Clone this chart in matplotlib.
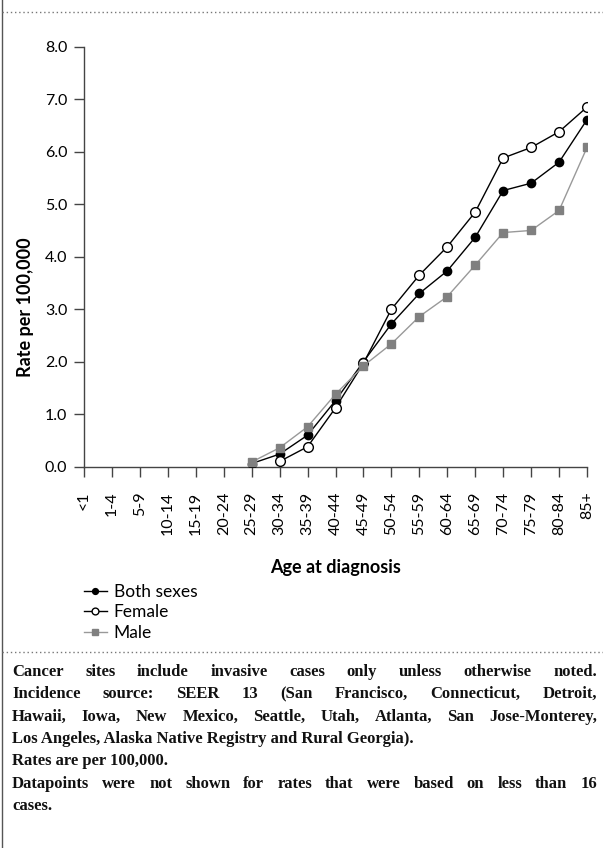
import matplotlib
matplotlib.use("Agg")
import matplotlib.pyplot as plt
from matplotlib.lines import Line2D
import numpy as np

# Data
age_groups = ['<1', '1-4', '5-9', '10-14', '15-19', '20-24', '25-29', '30-34', '35-39',
              '40-44', '45-49', '50-54', '55-59', '60-64', '65-69', '70-74', '75-79',
              '80-84', '85+']
both_sexes = [None] * 6 + [0.06, 0.24, 0.60, 1.26, 2.00, 2.72, 3.30, 3.73, 4.37, 5.26, 5.40, 5.80, 6.61]
female = [None] * 7 + [0.10, 0.38, 1.12, 1.97, 3.00, 3.65, 4.19, 4.85, 5.88, 6.08, 6.38, 6.85]
male = [None] * 6 + [0.09, 0.36, 0.76, 1.38, 1.92, 2.34, 2.86, 3.24, 3.84, 4.46, 4.50, 4.88, 6.08]
y_ticks = [0, 1, 2, 3, 4, 5, 6, 7, 8]

footnote_lines = [
    ("Cancer sites include invasive cases only unless otherwise noted.", True),
    ("Incidence source: SEER 13 (San Francisco, Connecticut, Detroit,", True),
    ("Hawaii, Iowa, New Mexico, Seattle, Utah, Atlanta, San Jose-Monterey,", True),
    ("Los Angeles, Alaska Native Registry and Rural Georgia).", False),
    ("Rates are per 100,000.", False),
    ("Datapoints were not shown for rates that were based on less than 16", True),
    ("cases.", False),
]

W, H = 603, 848
fig = plt.figure(figsize=(W / 100, H / 100), dpi=100)
sans = 'Lato'

# axes placement (pixels -> figure fractions)
ax_left, ax_right, ax_top, ax_bottom = 84, 587, 46.7, 466.7
ax = fig.add_axes([ax_left / W, 1 - ax_bottom / H, (ax_right - ax_left) / W, (ax_bottom - ax_top) / H])

x = np.arange(len(age_groups))


def to_arr(vals):
    return np.array([np.nan if v is None else v for v in vals], dtype=float)


ax.plot(x, to_arr(both_sexes), color='black', lw=1.0, marker='o', ms=6,
        mfc='black', mec='black', label='Both sexes', zorder=3)
ax.plot(x, to_arr(female), color='black', lw=1.0, marker='o', ms=7,
        mfc='white', mec='black', mew=1.0, label='Female', zorder=3)
ax.plot(x, to_arr(male), color='#999999', lw=1.0, marker='s', ms=6,
        mfc='#808080', mec='#808080', label='Male', zorder=3)

ax.set_xlim(0, len(age_groups) - 1)
ax.set_ylim(0, 8)
ax.set_yticks(y_ticks)
ax.set_yticklabels(['%.1f' % v for v in y_ticks], fontfamily=sans, fontsize=11.5)
ax.set_xticks(x)
ax.set_xticklabels(age_groups, rotation=90, fontfamily=sans, fontsize=11.5)
ax.tick_params(axis='x', length=7, width=1, pad=11, color='#444444')
ax.tick_params(axis='y', length=7, width=1, pad=5, color='#444444')

for s in ['top', 'right']:
    ax.spines[s].set_visible(False)
for s in ['left', 'bottom']:
    ax.spines[s].set_color('#444444')
    ax.spines[s].set_linewidth(1)

fig.text(335.5 / W, 1 - 567 / H, 'Age at diagnosis', ha='center', va='center',
         fontfamily=sans, fontweight='bold', fontsize=13)
fig.text(25 / W, 1 - 307 / H, 'Rate per 100,000', ha='center', va='center', rotation=90,
         fontfamily=sans, fontweight='bold', fontsize=13)

fig.legend(loc='upper left', bbox_to_anchor=(84 / W, 1 - 584 / H), frameon=False,
           prop={'family': sans, 'size': 12.5}, handlelength=1.3, handletextpad=0.4,
           labelspacing=0.25, borderpad=0, borderaxespad=0, markerscale=0.7)

# frame lines
fig.add_artist(Line2D([2 / W, 2 / W], [0, 1], color='#555555', lw=1))
for yy in [12, 652]:
    fig.add_artist(Line2D([2 / W, 1], [1 - yy / H] * 2, color='#777777', lw=1, ls=(0, (1, 2))))

# justified footnote
renderer = fig.canvas.get_renderer()
fn_font = dict(fontfamily='Liberation Serif', fontweight='bold', fontsize=12, color='#111111')
x0, x1 = 12, 597
y0, dy = 672, 22.3
for i, (line, justify) in enumerate(footnote_lines):
    yy = 1 - (y0 + i * dy) / H
    if not justify:
        fig.text(x0 / W, yy, line, ha='left', va='center', **fn_font)
        continue
    words = line.split(' ')
    items = [fig.text(0, yy, w, ha='left', va='center', **fn_font) for w in words]
    widths = [t.get_window_extent(renderer).width for t in items]
    gap = (x1 - x0 - sum(widths)) / (len(words) - 1)
    pos = x0
    for t, w in zip(items, widths):
        t.set_x(pos / W)
        pos += w + gap

fig.savefig('out.png', dpi=100)
